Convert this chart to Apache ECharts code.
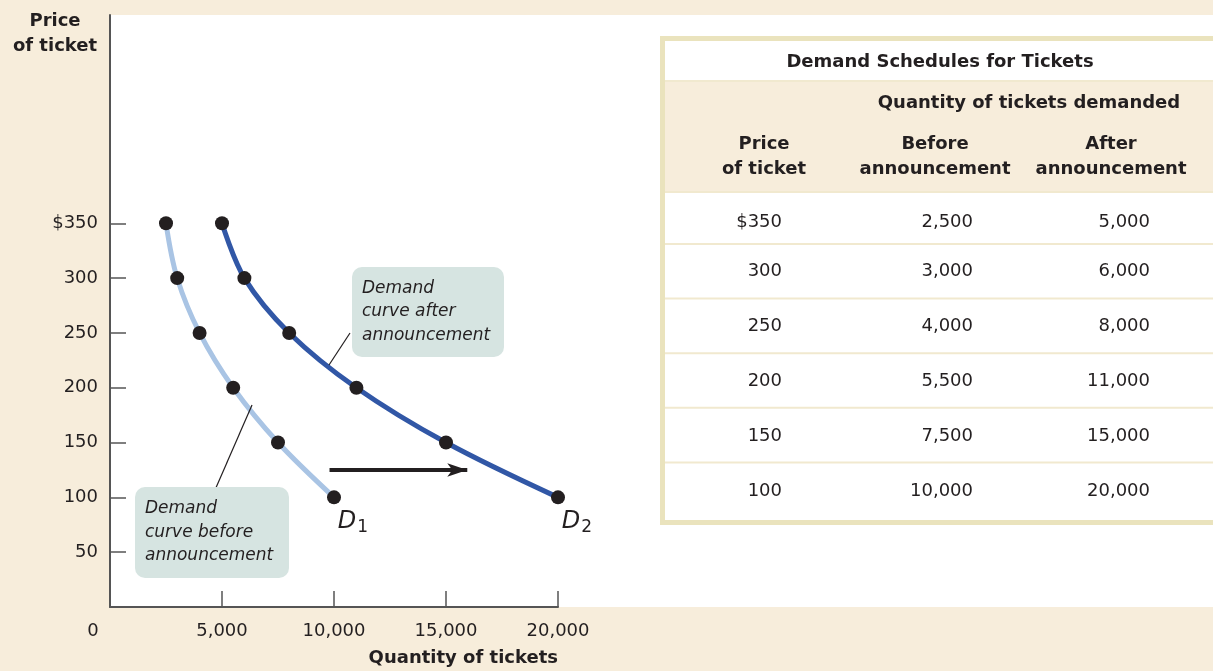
<!DOCTYPE html>
<html>
<head>
<meta charset="utf-8">
<script src="https://cdn.jsdelivr.net/npm/echarts@6/dist/echarts.min.js"></script>
<style>
  html, body { margin: 0; padding: 0; background: #f7eddb; }
  #main { width: 1213px; height: 671px; }
</style>
</head>
<body>
<div id="main"></div>
<script>
// demand schedules
const prices = [350, 300, 250, 200, 150, 100];
const qtyBefore = [2500, 3000, 4000, 5500, 7500, 10000];
const qtyAfter = [5000, 6000, 8000, 11000, 15000, 20000];
const priceTicks = [50, 100, 150, 200, 250, 300, 350];
const qtyTicks = [5000, 10000, 15000, 20000];
// shift arrow (quantity, price)
const shiftStart = [9800, 125];
const shiftEnd = [15950, 125];

const FONT = 'DejaVu Sans';
const INK = '#231f20';
const BEIGE = '#f7eddb';
const BORDER = '#eae3bd';
const RULE = '#f1e9cf';
const CALLOUT = '#d6e4e1';

const fmt = (v) => v.toLocaleString('en-US');

function pairs(qs) {
  return qs.map((q, i) => [q, prices[i]]);
}

function curveLabel(sub) {
  return {
    show: true,
    position: 'bottom',
    offset: [19, -3],
    formatter: (p) => (p.dataIndex === prices.length - 1 ? '{d|D}{s|' + sub + '}' : ''),
    rich: {
      d: { fontFamily: FONT, fontStyle: 'italic', fontSize: 24, color: INK },
      s: { fontFamily: FONT, fontSize: 17, color: INK, padding: [13, 0, 0, 1] },
    },
  };
}

function tableGraphic() {
  const x0 = 660, top = 36, w = 560, bottom = 525;
  const els = [];
  els.push({ type: 'rect', z: 5, shape: { x: x0, y: top, width: w, height: bottom - top }, style: { fill: BORDER } });
  els.push({ type: 'rect', z: 5, shape: { x: x0 + 5, y: top + 5, width: w, height: bottom - top - 10 }, style: { fill: '#fff' } });
  els.push({ type: 'rect', z: 5, shape: { x: x0 + 5, y: 81, width: w, height: 111 }, style: { fill: BEIGE } });
  els.push({ type: 'line', z: 6, shape: { x1: x0 + 5, y1: 81, x2: x0 + w, y2: 81 }, style: { stroke: RULE, lineWidth: 2 } });
  els.push({ type: 'line', z: 6, shape: { x1: x0 + 5, y1: 192, x2: x0 + w, y2: 192 }, style: { stroke: RULE, lineWidth: 2 } });
  for (let i = 1; i < prices.length; i++) {
    const y = 244 + 54.6 * (i - 1);
    els.push({ type: 'line', z: 6, shape: { x1: x0 + 5, y1: y, x2: x0 + w, y2: y }, style: { stroke: RULE, lineWidth: 2 } });
  }
  const txt = (text, x, y, align, bold) => ({
    type: 'text', z: 7, x, y,
    style: {
      text, fill: INK, fontFamily: FONT, fontSize: 18, fontWeight: bold ? 'bold' : 'normal',
      align, verticalAlign: 'middle', lineHeight: 25,
    },
  });
  els.push(txt('Demand Schedules for Tickets', 940, 62, 'center', true));
  els.push(txt('Quantity of tickets demanded', 1029, 103, 'center', true));
  els.push(txt('Price\nof ticket', 764, 157, 'center', true));
  els.push(txt('Before\nannouncement', 935, 157, 'center', true));
  els.push(txt('After\nannouncement', 1111, 157, 'center', true));
  prices.forEach((p, i) => {
    const y = i === 0 ? 222 : 216 + 55 * i;
    els.push(txt(i === 0 ? '$' + p : String(p), 782, y, 'right', false));
    els.push(txt(fmt(qtyBefore[i]), 973, y, 'right', false));
    els.push(txt(fmt(qtyAfter[i]), 1150, y, 'right', false));
  });
  return els;
}

function callout(x, y, w, h, text, lx1, ly1, lx2, ly2) {
  return [
    { type: 'line', z: 4, shape: { x1: lx1, y1: ly1, x2: lx2, y2: ly2 }, style: { stroke: INK, lineWidth: 1.2 } },
    { type: 'rect', z: 5, shape: { x, y, width: w, height: h, r: 10 }, style: { fill: CALLOUT } },
    {
      type: 'text', z: 6, x: x + 10, y: y + h / 2,
      style: {
        text, fill: INK, fontFamily: FONT, fontStyle: 'italic', fontSize: 17,
        align: 'left', verticalAlign: 'middle', lineHeight: 23.5,
      },
    },
  ];
}

const chart = echarts.init(document.getElementById('main'));
chart.setOption({
  backgroundColor: BEIGE,
  animation: false,
  grid: { left: 110, right: 655, top: 15, bottom: 64 },
  xAxis: {
    type: 'value',
    min: 0,
    max: 20000,
    interval: 5000,
    name: 'Quantity of tickets',
    nameLocation: 'end',
    nameGap: 0,
    nameTextStyle: {
      fontFamily: FONT, fontWeight: 'bold', fontSize: 18, color: INK,
      align: 'right', verticalAlign: 'top', padding: [42, 0, 0, 0],
    },
    axisLine: { onZero: false, lineStyle: { color: '#555', width: 2 } },
    axisTick: { inside: true, length: 16, customValues: qtyTicks, lineStyle: { color: '#555', width: 1.5 } },
    axisLabel: {
      customValues: qtyTicks, formatter: (v) => fmt(v), margin: 15,
      fontFamily: FONT, fontSize: 18, color: INK,
    },
    splitLine: { show: false },
  },
  yAxis: {
    type: 'value',
    min: 0,
    max: 540,
    interval: 50,
    name: 'Price\nof ticket',
    nameLocation: 'end',
    nameGap: 6,
    nameTextStyle: {
      fontFamily: FONT, fontWeight: 'bold', fontSize: 18, color: INK,
      align: 'center', verticalAlign: 'top', lineHeight: 25, padding: [0, 110, 0, 0],
    },
    axisLine: { show: true, lineStyle: { color: '#555', width: 2 } },
    axisTick: { show: true, inside: true, length: 16, customValues: priceTicks, lineStyle: { color: '#555', width: 1.5 } },
    axisLabel: {
      customValues: priceTicks, formatter: (v) => (v === 350 ? '$350' : String(v)), margin: 12,
      fontFamily: FONT, fontSize: 18, color: INK,
    },
    splitLine: { show: false },
  },
  graphic: [
    { type: 'rect', z: -10, shape: { x: 110, y: 15, width: 1103, height: 592 }, style: { fill: '#fff' } },
    {
      type: 'text', x: 93, y: 631,
      style: { text: '0', fill: INK, fontFamily: FONT, fontSize: 18, align: 'center', verticalAlign: 'middle' },
    },
    ...callout(352, 267, 152, 90, 'Demand\ncurve after\nannouncement', 350, 333, 329, 365),
    ...callout(135, 487, 154, 91, 'Demand\ncurve before\nannouncement', 215, 490, 252, 405),
    ...tableGraphic(),
  ],
  series: [
    {
      name: 'D1',
      type: 'line',
      data: pairs(qtyBefore),
      smooth: 0.35,
      lineStyle: { color: '#a9c4e4', width: 5 },
      symbol: 'circle',
      symbolSize: 14,
      itemStyle: { color: INK },
      label: curveLabel('1'),
      z: 3,
    },
    {
      name: 'D2',
      type: 'line',
      data: pairs(qtyAfter),
      smooth: 0.35,
      lineStyle: { color: '#3157a6', width: 5 },
      symbol: 'circle',
      symbolSize: 14,
      itemStyle: { color: INK },
      label: curveLabel('2'),
      z: 3,
      markLine: {
        silent: true,
        symbol: ['none', 'arrow'],
        symbolSize: [10, 20],
        label: { show: false },
        lineStyle: { color: INK, width: 4, type: 'solid' },
        data: [[{ coord: shiftStart }, { coord: shiftEnd }]],
      },
    },
  ],
});
</script>
</body>
</html>
